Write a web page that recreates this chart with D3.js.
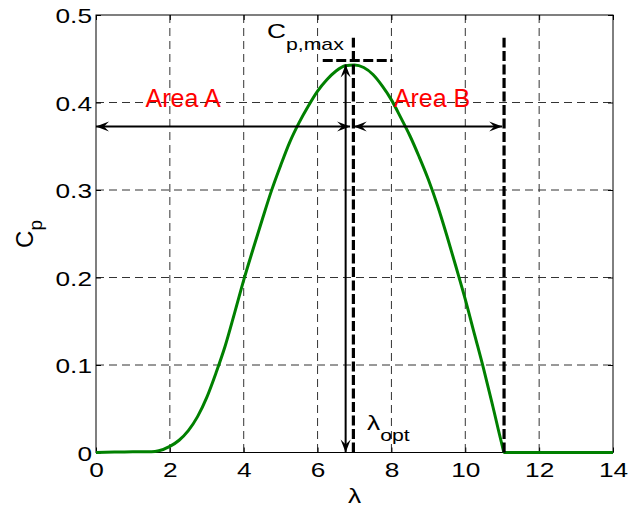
<!DOCTYPE html>
<html>
<head>
<meta charset="utf-8">
<script src="https://cdn.jsdelivr.net/npm/d3@7"></script>
<style>
    body { margin: 0; background: #fff; }
    svg { font-family: "Liberation Sans", Arial, sans-serif; }
</style>
</head>
<body>
<div id="cp-chart"></div>
<script>

// curve: power coefficient vs tip speed ratio
const lambdaValues = [0, 0.5, 1, 1.5, 1.7, 2, 2.25, 2.5, 2.75, 3, 3.25, 3.5, 3.75, 4, 4.25, 4.5, 4.75, 5, 5.25, 5.5, 5.75, 6, 6.25, 6.5, 6.75, 7, 7.25, 7.5, 7.75, 8, 8.25, 8.5, 8.75, 9, 9.25, 9.5, 9.75, 10, 10.25, 10.5, 10.75, 11, 11.05, 11.5, 12, 13, 14]
const cpValues = [0, 0.0005, 0.001, 0.001, 0.002, 0.007, 0.014, 0.025, 0.041, 0.063, 0.091, 0.122, 0.159, 0.197, 0.232, 0.266, 0.299, 0.328, 0.355, 0.377, 0.396, 0.413, 0.426, 0.436, 0.442, 0.443, 0.44, 0.432, 0.419, 0.403, 0.383, 0.362, 0.338, 0.312, 0.282, 0.248, 0.212, 0.175, 0.135, 0.095, 0.052, 0.008, 0, 0, 0, 0, 0]

const xTicks = [0, 2, 4, 6, 8, 10, 12, 14]
const yTicks = [0, 0.1, 0.2, 0.3, 0.4, 0.5]

// annotations (in data units)
const lambdaOpt = 6.97
const lambdaLimit = 11.05
const cpMax = 0.448
const cpMaxSpan = [6.14, 8.03]
const dashedTop = 0.474
const areaArrowCp = 0.3725
const areaArrowA = [0, 6.88]
const areaArrowB = [6.98, 11.0]
const cpArrowLambda = 6.76
const cpArrowSpan = [0, 0.4435]
const areaLabels = [
    { text: "Area A", lambda: 2.36, cp: 0.395 },
    { text: "Area B", lambda: 9.1, cp: 0.395 }
]

const SX = 1.25 // labels in the picture look stretched sideways

class CpChart {

    constructor(parentElement) {
        this.parentElement = parentElement
        this.data = lambdaValues.map((l, i) => ({ lambda: l, cp: cpValues[i] }))
        this.initVis()
    }

    initVis() {
        let vis = this

        vis.margin = { top: 15, right: 29, bottom: 55.5, left: 96 }
        vis.width = 642 - vis.margin.left - vis.margin.right
        vis.height = 508 - vis.margin.top - vis.margin.bottom

        vis.svg = d3.select("#" + vis.parentElement).append("svg")
            .attr("width", 642)
            .attr("height", 508)
            .append("g")
            .attr("transform", "translate(" + vis.margin.left + "," + vis.margin.top + ")")

        vis.x = d3.scaleLinear().domain([0, 14]).range([0, vis.width])
        vis.y = d3.scaleLinear().domain([0, 0.5]).range([vis.height, 0])

        // grid
        vis.svg.append("g").attr("class", "grid")
            .selectAll("line.gx")
            .data(xTicks.slice(1, -1))
            .enter().append("line")
            .attr("x1", d => vis.x(d)).attr("x2", d => vis.x(d))
            .attr("y1", 0).attr("y2", vis.height)
            .attr("stroke", "#333").attr("stroke-width", 1)
            .attr("stroke-dasharray", "8,5")

        vis.svg.append("g").attr("class", "grid")
            .selectAll("line.gy")
            .data(yTicks.slice(1, -1))
            .enter().append("line")
            .attr("x1", 0).attr("x2", vis.width)
            .attr("y1", d => vis.y(d)).attr("y2", d => vis.y(d))
            .attr("stroke", "#333").attr("stroke-width", 1)
            .attr("stroke-dasharray", "8,5")

        // axes (ticks point inward)
        vis.xAxis = d3.axisBottom(vis.x).tickValues(xTicks).tickFormat(d3.format("d"))
            .tickSizeInner(-5).tickSizeOuter(0)
        vis.yAxis = d3.axisLeft(vis.y).tickValues(yTicks).tickFormat(d => d === 0 ? "0" : d3.format(".1f")(d))
            .tickSizeInner(-5).tickSizeOuter(0)

        let gx = vis.svg.append("g")
            .attr("class", "x-axis axis")
            .attr("transform", "translate(0," + vis.height + ")")
            .call(vis.xAxis)
        gx.selectAll("text")
            .attr("y", 0).attr("dy", null)
            .attr("transform", "translate(0,24) scale(" + SX + ",1)")

        let gy = vis.svg.append("g")
            .attr("class", "y-axis axis")
            .call(vis.yAxis)
        gy.selectAll("text")
            .attr("x", 0).attr("dy", null)
            .attr("transform", "translate(-4,7.5) scale(" + SX + ",1)")

        vis.svg.selectAll(".axis text").attr("font-size", "21px").attr("fill", "#000")
        vis.svg.selectAll(".axis .domain").remove()
        vis.svg.selectAll(".axis line").attr("stroke", "#000")

        // ticks on the top and right sides
        vis.svg.append("g")
            .call(d3.axisTop(vis.x).tickValues(xTicks).tickSizeInner(-5).tickSizeOuter(0).tickFormat(""))
            .call(g => g.select(".domain").remove())
        vis.svg.append("g")
            .attr("transform", "translate(" + vis.width + ",0)")
            .call(d3.axisRight(vis.y).tickValues(yTicks).tickSizeInner(-5).tickSizeOuter(0).tickFormat(""))
            .call(g => g.select(".domain").remove())

        // box
        vis.svg.append("rect")
            .attr("x", 0).attr("y", 0)
            .attr("width", vis.width).attr("height", vis.height)
            .attr("fill", "none").attr("stroke", "#000").attr("stroke-width", 1)

        // axis labels
        vis.svg.append("text")
            .attr("transform", "translate(" + (vis.width / 2) + "," + (vis.height + 50) + ") scale(" + SX + ",1)")
            .attr("text-anchor", "middle")
            .attr("font-size", "21px")
            .text("λ")

        let ylab = vis.svg.append("text")
            .attr("transform", "translate(-63," + vis.y(0.243) + ") rotate(-90)")
            .attr("font-size", "24px")
            .attr("x", -8)
        ylab.append("tspan").text("C")
        ylab.append("tspan").attr("dy", 9).attr("font-size", "19px").text("p")

        // arrow head
        vis.svg.append("defs").append("marker")
            .attr("id", "head")
            .attr("viewBox", "-14 -6 15 12")
            .attr("refX", 0).attr("refY", 0)
            .attr("markerWidth", 15).attr("markerHeight", 12)
            .attr("markerUnits", "userSpaceOnUse")
            .attr("orient", "auto-start-reverse")
            .append("path")
            .attr("d", "M0,0 L-13,-5 L-8,0 L-13,5 Z")
            .attr("fill", "#000")

        vis.updateVis()
    }

    updateVis() {
        let vis = this

        // curve
        vis.line = d3.line()
            .x(d => vis.x(d.lambda))
            .y(d => vis.y(d.cp))
            .curve(d3.curveMonotoneX)

        vis.svg.append("path")
            .datum(vis.data)
            .attr("d", vis.line)
            .attr("fill", "none")
            .attr("stroke", "#008000")
            .attr("stroke-width", 3)

        // thick dashed markers
        let thick = [
            { x1: lambdaOpt, x2: lambdaOpt, y1: 0, y2: dashedTop },
            { x1: lambdaLimit, x2: lambdaLimit, y1: 0, y2: dashedTop },
            { x1: cpMaxSpan[0], x2: cpMaxSpan[1], y1: cpMax, y2: cpMax }
        ]
        vis.svg.selectAll(".thick-dash")
            .data(thick)
            .enter().append("line")
            .attr("class", "thick-dash")
            .attr("x1", d => vis.x(d.x1)).attr("x2", d => vis.x(d.x2))
            .attr("y1", d => vis.y(d.y1)).attr("y2", d => vis.y(d.y2))
            .attr("stroke", "#000").attr("stroke-width", 3.2)
            .attr("stroke-dasharray", "10,3.5")

        // double arrows
        let arrows = [
            { x1: areaArrowA[0], x2: areaArrowA[1], y1: areaArrowCp, y2: areaArrowCp },
            { x1: areaArrowB[0], x2: areaArrowB[1], y1: areaArrowCp, y2: areaArrowCp },
            { x1: cpArrowLambda, x2: cpArrowLambda, y1: cpArrowSpan[0], y2: cpArrowSpan[1] }
        ]
        vis.svg.selectAll(".arrow")
            .data(arrows)
            .enter().append("line")
            .attr("class", "arrow")
            .attr("x1", d => vis.x(d.x1)).attr("x2", d => vis.x(d.x2))
            .attr("y1", d => vis.y(d.y1)).attr("y2", d => vis.y(d.y2))
            .attr("stroke", "#000").attr("stroke-width", 2)
            .attr("marker-start", "url(#head)")
            .attr("marker-end", "url(#head)")

        // area labels
        vis.svg.selectAll(".area-label")
            .data(areaLabels)
            .enter().append("text")
            .attr("class", "area-label")
            .attr("x", d => vis.x(d.lambda))
            .attr("y", d => vis.y(d.cp))
            .attr("text-anchor", "middle")
            .attr("font-size", "25px")
            .attr("fill", "#ff0000")
            .text(d => d.text)

        // Cp,max label
        let cpLab = vis.svg.append("text")
            .attr("transform", "translate(" + (267 - vis.margin.left) + "," + (38 - vis.margin.top) + ") scale(" + SX + ",1)")
            .attr("font-size", "21px")
        cpLab.append("tspan").text("C")
        cpLab.append("tspan").attr("dy", 12).attr("font-size", "17px").text("p,max")

        // lambda_opt label
        let lamLab = vis.svg.append("text")
            .attr("transform", "translate(" + (367 - vis.margin.left) + "," + (430 - vis.margin.top) + ") scale(" + SX + ",1)")
            .attr("font-size", "21px")
        lamLab.append("tspan").text("λ")
        lamLab.append("tspan").attr("dy", 11).attr("font-size", "17px").text("opt")
    }
}

new CpChart("cp-chart")

</script>
</body>
</html>
